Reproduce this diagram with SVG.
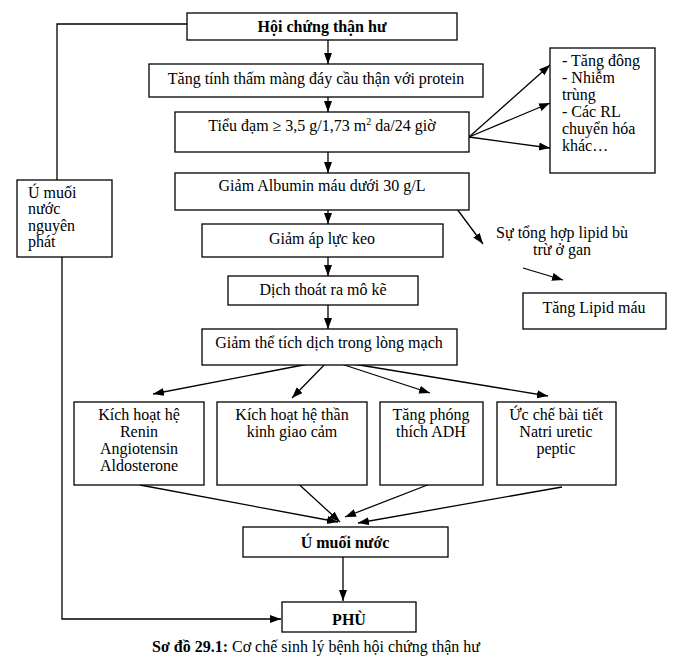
<svg xmlns="http://www.w3.org/2000/svg" width="692" height="666" viewBox="0 0 692 666">
<style>
.b{fill:#fff;stroke:#000;stroke-width:1.3}
.t{font-family:"Liberation Serif","Times New Roman",serif;font-size:16px;fill:#000}
.c{text-anchor:middle}
.bd{font-weight:bold}
.l{fill:none;stroke:#000;stroke-width:1.3}
</style>
<defs>
<marker id="ah" markerUnits="userSpaceOnUse" markerWidth="12" markerHeight="10" refX="11" refY="4" orient="auto">
<path d="M0,0 L11,4 L0,8 Z" fill="#000"/>
</marker>
</defs>
<rect width="692" height="666" fill="#fff"/>

<g id="connectors">
<polyline class="l" points="187,24 57,24 57,180"/>
<polyline class="l" points="62,257 62,619 281,619" marker-end="url(#ah)"/>
<line class="l" x1="328" y1="40" x2="328" y2="64" marker-end="url(#ah)"/>
<line class="l" x1="328" y1="97" x2="328" y2="112" marker-end="url(#ah)"/>
<line class="l" x1="328" y1="152" x2="328" y2="173" marker-end="url(#ah)"/>
<line class="l" x1="328" y1="210" x2="328" y2="224" marker-end="url(#ah)"/>
<line class="l" x1="328" y1="257" x2="328" y2="276" marker-end="url(#ah)"/>
<line class="l" x1="328" y1="305" x2="328" y2="329" marker-end="url(#ah)"/>
<line class="l" x1="469" y1="137" x2="550" y2="65" marker-end="url(#ah)"/>
<line class="l" x1="469" y1="137" x2="550" y2="103" marker-end="url(#ah)"/>
<line class="l" x1="469" y1="137" x2="550" y2="148" marker-end="url(#ah)"/>
<line class="l" x1="457" y1="209" x2="483" y2="244" marker-end="url(#ah)"/>
<line class="l" x1="523" y1="268" x2="563" y2="280" marker-end="url(#ah)"/>
<line class="l" x1="329" y1="360" x2="153" y2="394" marker-end="url(#ah)"/>
<line class="l" x1="329" y1="360" x2="292" y2="398" marker-end="url(#ah)"/>
<line class="l" x1="329" y1="360" x2="430" y2="393" marker-end="url(#ah)"/>
<line class="l" x1="329" y1="360" x2="548" y2="396" marker-end="url(#ah)"/>
<line class="l" x1="140" y1="485" x2="338" y2="522" marker-end="url(#ah)"/>
<line class="l" x1="292" y1="478" x2="340" y2="522" marker-end="url(#ah)"/>
<line class="l" x1="430" y1="484" x2="345" y2="517" marker-end="url(#ah)"/>
<line class="l" x1="562" y1="487" x2="358" y2="523" marker-end="url(#ah)"/>
<line class="l" x1="343" y1="557" x2="343" y2="601" marker-end="url(#ah)"/>
</g>

<g id="n1"><rect class="b" x="187" y="13" width="270" height="27"/><text class="t c bd" x="322" y="32">Hội chứng thận hư</text></g>
<g id="n2"><rect class="b" x="149" y="64" width="334" height="33"/><text class="t c" x="316" y="84">Tăng tính thấm màng đáy cầu thận với protein</text></g>
<g id="n3"><rect class="b" x="175" y="112" width="294" height="40"/><text class="t c" x="322" y="131">Tiểu đạm ≥ 3,5 g/1,73 m<tspan font-size="10" dy="-6">2</tspan><tspan dy="6"> da/24 giờ</tspan></text></g>
<g id="n4"><rect class="b" x="175" y="173" width="294" height="37"/><text class="t c" x="322" y="191">Giảm Albumin máu dưới 30 g/L</text></g>
<g id="n5"><rect class="b" x="202" y="224" width="241" height="33"/><text class="t c" x="322" y="244">Giảm áp lực keo</text></g>
<g id="n6"><rect class="b" x="228" y="276" width="190" height="29"/><text class="t c" x="323" y="295">Dịch thoát ra mô kẽ</text></g>
<g id="n7"><rect class="b" x="202" y="329" width="255" height="36"/><text class="t c" x="329" y="348">Giảm thể tích dịch trong lòng mạch</text></g>
<g id="n8"><rect class="b" x="550" y="48" width="105" height="125"/>
<text class="t" x="562" y="66">- Tăng đông</text>
<text class="t" x="562" y="83">- Nhiễm</text>
<text class="t" x="562" y="100">trùng</text>
<text class="t" x="562" y="117">- Các RL</text>
<text class="t" x="562" y="134">chuyển hóa</text>
<text class="t" x="562" y="151">khác…</text></g>
<g id="n9"><text class="t c" x="562" y="238">Sự tổng hợp lipid bù</text><text class="t c" x="562" y="255">trừ ở gan</text></g>
<g id="n10"><rect class="b" x="523" y="293" width="143" height="36"/><text class="t c" x="594" y="313">Tăng Lipid máu</text></g>
<g id="n11"><rect class="b" x="17" y="180" width="95" height="77"/>
<text class="t" x="28" y="198">Ú muối</text>
<text class="t" x="28" y="214">nước</text>
<text class="t" x="28" y="231">nguyên</text>
<text class="t" x="28" y="247">phát</text></g>
<g id="n12"><rect class="b" x="74" y="402" width="130" height="83"/>
<text class="t c" x="139" y="420">Kích hoạt hệ</text>
<text class="t c" x="139" y="437">Renin</text>
<text class="t c" x="139" y="454">Angiotensin</text>
<text class="t c" x="139" y="471">Aldosterone</text></g>
<g id="n13"><rect class="b" x="217" y="402" width="150" height="83"/>
<text class="t c" x="292" y="420">Kích hoạt hệ thần</text>
<text class="t c" x="292" y="437">kinh giao cảm</text></g>
<g id="n14"><rect class="b" x="380" y="402" width="103" height="83"/>
<text class="t c" x="431" y="420">Tăng phóng</text>
<text class="t c" x="431" y="437">thích ADH</text></g>
<g id="n15"><rect class="b" x="497" y="402" width="119" height="83"/>
<text class="t c" x="556" y="420">Ức chế bài tiết</text>
<text class="t c" x="556" y="437">Natri uretic</text>
<text class="t c" x="556" y="454">peptic</text></g>
<g id="n16"><rect class="b" x="243" y="527" width="205" height="30"/><text class="t c bd" x="345" y="548">Ú muối nước</text></g>
<g id="n17"><rect class="b" x="282" y="602" width="134" height="30"/><text class="t c bd" x="349" y="625" font-size="22">PHÙ</text></g>
<text class="t c" x="316" y="652"><tspan font-weight="bold">Sơ đồ 29.1:</tspan> Cơ chế sinh lý bệnh hội chứng thận hư</text>
</svg>
